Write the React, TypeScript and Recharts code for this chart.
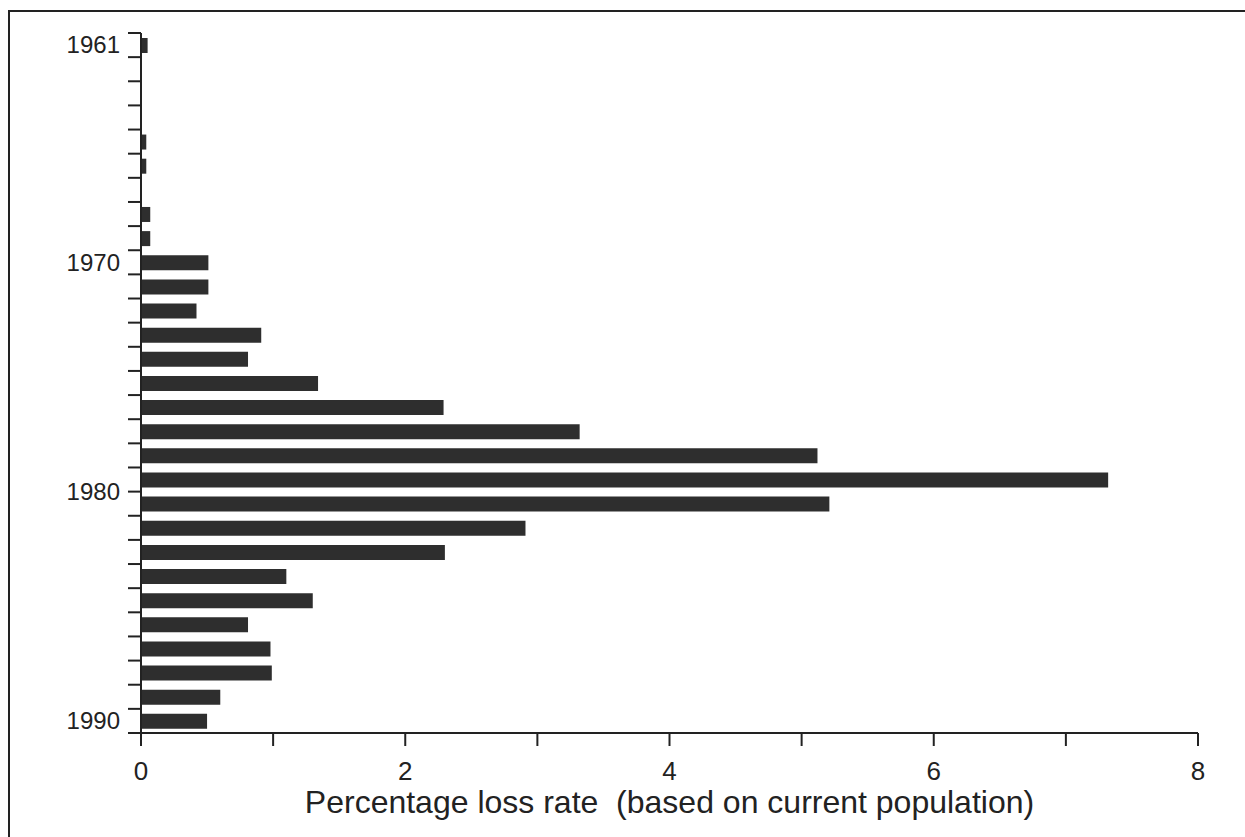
import { Bar, BarChart, XAxis, YAxis } from 'recharts';

const years = [
  '1961', '1962', '1963', '1964', '1965', '1966', '1967', '1968', '1969', '1970',
  '1971', '1972', '1973', '1974', '1975', '1976', '1977', '1978', '1979', '1980',
  '1981', '1982', '1983', '1984', '1985', '1986', '1987', '1988', '1989',
];
const lossRate = [
  0.05, 0, 0, 0, 0.04, 0.04, 0, 0.07, 0.07, 0.51,
  0.51, 0.42, 0.91, 0.81, 1.34, 2.29, 3.32, 5.12, 7.32, 5.21,
  2.91, 2.3, 1.1, 1.3, 0.81, 0.98, 0.99, 0.6, 0.5,
];
const rateTicks = [0, 1, 2, 3, 4, 5, 6, 7, 8];
const yearTicks = [
  { row: 0, label: '1961' },
  { row: 9, label: '1970' },
  { row: 18.5, label: '1980' },
  { row: 28, label: '1990' },
];

const data = years.map((year, i) => ({ year, rate: lossRate[i] }));

const W = 1245;
const H = 837;
const xAxisHeight = 100;
const margin = { top: 33, right: 47, bottom: 4, left: 0 };
const band = (H - margin.top - margin.bottom - xAxisHeight) / years.length;
const font = '"Liberation Sans", Arial, Helvetica, sans-serif';
const ink = '#222';

const YearTick = (props: any) => {
  const { x, y, index } = props;
  const t = yearTicks.find((d) => Math.floor(d.row) === index);
  return (
    <g>
      {index === 0 && (
        <line x1={x - 13} x2={x} y1={y - band / 2} y2={y - band / 2} stroke={ink} strokeWidth={2} />
      )}
      <line x1={x - 13} x2={x} y1={y + band / 2} y2={y + band / 2} stroke={ink} strokeWidth={2} />
      {t && (
        <text
          x={x - 21}
          y={y + (t.row - index) * band}
          dy="0.35em"
          textAnchor="end"
          fontSize={24}
          fontFamily={font}
          fill={ink}
        >
          {t.label}
        </text>
      )}
    </g>
  );
};

const RateTick = (props: any) => {
  const { x, y, payload } = props;
  if (payload.value % 2 !== 0) return <g />;
  return (
    <text x={x} y={y} dy="0.71em" textAnchor="middle" fontSize={26} fontFamily={font} fill={ink}>
      {payload.value}
    </text>
  );
};

const AxisTitle = (props: any) => {
  const { viewBox } = props;
  return (
    <text
      x={viewBox.x + viewBox.width / 2}
      y={viewBox.y + 80}
      textAnchor="middle"
      fontSize={32}
      fontFamily={font}
      fill={ink}
      style={{ whiteSpace: 'pre' }}
    >
      {'Percentage loss rate  (based on current population)'}
    </text>
  );
};

export default function App() {
  return (
    <div style={{ position: 'absolute', left: 0, top: 0, width: W, height: H, background: '#fff' }}>
      <div
        style={{
          position: 'absolute',
          left: 8,
          top: 10,
          width: W - 8,
          height: H - 10,
          borderTop: `2px solid ${ink}`,
          borderLeft: `2px solid ${ink}`,
          boxSizing: 'border-box',
        }}
      />
      <BarChart width={W} height={H} data={data} layout="vertical" margin={margin}>
        <XAxis
          type="number"
          dataKey="rate"
          domain={[0, 8]}
          ticks={rateTicks}
          interval={0}
          tickSize={13}
          tickMargin={16}
          axisLine={{ stroke: ink, strokeWidth: 2 }}
          tickLine={{ stroke: ink, strokeWidth: 2 }}
          tick={<RateTick />}
          label={<AxisTitle />}
          height={xAxisHeight}
        />
        <YAxis
          type="category"
          dataKey="year"
          width={141}
          interval={0}
          tickSize={0}
          tickMargin={0}
          tickLine={false}
          axisLine={{ stroke: ink, strokeWidth: 2 }}
          tick={<YearTick />}
        />
        <Bar dataKey="rate" fill="#2e2e2e" barSize={15} isAnimationActive={false} />
      </BarChart>
    </div>
  );
}
